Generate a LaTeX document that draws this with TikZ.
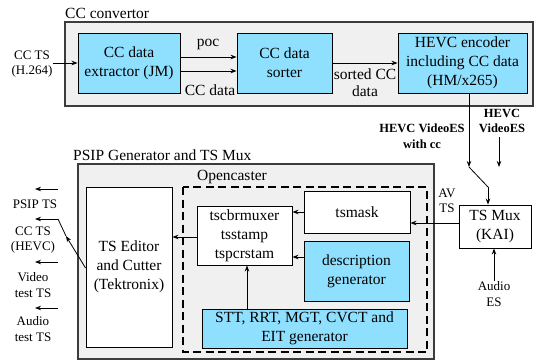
\documentclass[tikz,border=0pt]{standalone}
\usepackage{fontspec}
\setmainfont{Liberation Serif}
\usetikzlibrary{arrows.meta,calc}
\definecolor{boxblue}{RGB}{143,223,255}
\definecolor{panelgray}{RGB}{240,240,240}
\definecolor{paneledge}{RGB}{60,60,60}
\tikzset{
  panel/.style={draw=paneledge,line width=1.3pt,fill=panelgray},
  block/.style={draw=black,line width=0.9pt,fill=white,align=center,inner sep=1pt,
    font=\fontsize{15.5}{19}\selectfont},
  blueblock/.style={block,fill=boxblue},
  lbl/.style={align=center,inner sep=0pt,font=\fontsize{13}{15.5}\selectfont},
  boldlbl/.style={align=center,inner sep=0pt,font=\fontsize{12.5}{15.5}\selectfont\bfseries},
  title/.style={inner sep=0pt,font=\fontsize{15.5}{19}\selectfont},
  arr/.style={line width=0.8pt,-{Stealth[length=6pt,width=4.5pt]}},
  ln/.style={line width=0.8pt},
}
\begin{document}
\begin{tikzpicture}[x=1pt,y=-1pt]
\useasboundingbox (0,0) rectangle (535,360);

% ---- CC convertor panel ----
\draw[panel] (65,22) rectangle (533,106);
\node[title,anchor=base west] (cctitle) at (65,18) {CC convertor};

\node[blueblock,minimum width=102pt,minimum height=60pt] (ext) at (129,63) {CC data\\extractor (JM)};
\node[blueblock,minimum width=95pt,minimum height=60pt] (sort) at (284.5,63) {CC data\\sorter};
\node[blueblock,minimum width=129pt,minimum height=60pt] (hevc) at (462.5,63) {HEVC encoder\\including CC data\\(HM/x265)};

\node[lbl] (ccin) at (32,64) {CC TS\\(H.264)};
\coordinate (ccinend) at (53,63);
\draw[arr] (ccinend) -- (ext.west);

\draw[arr] ([yshift=6pt]ext.east) -- ([yshift=6pt]ext.east -| sort.west);
\draw[arr] ([yshift=-8pt]ext.east) -- ([yshift=-8pt]ext.east -| sort.west);
\node[title] (poc) at (208,44) {poc};
\node[title] (ccdata) at (210,90) {CC data};

\draw[arr] (sort.east) -- (hevc.west);
\node[title,align=center,font=\fontsize{15.5}{17}\selectfont] (sorted) at (365,83) {sorted CC\\data};

% ---- switch between the two video inputs of the mux ----
\node[blueblock,draw=black,fill=white,minimum width=72pt,minimum height=43pt] (mux) at (495,226.5) {TS Mux\\(KAI)};
\coordinate (swa) at (469,167);
\coordinate (swb) at (488,187);
\coordinate (vesa) at (499,137);
\coordinate (vesb) at (499,167);
\draw[arr] ([xshift=6.5pt]hevc.south) -- (swa);
\draw[ln] (swa) -- (swb);
\draw[arr] (swb) -- (swb |- mux.north);
\draw[arr] (vesa) -- (vesb);
\node[boldlbl] (veswcc) at (422,136) {HEVC VideoES\\with cc};
\node[boldlbl] (ves) at (502,121) {HEVC\\VideoES};

\node[lbl] (audio) at (494,294) {Audio\\ES};
\draw[arr] (audio.north) -- (audio.north |- mux.south);

% ---- PSIP generator and TS mux panel ----
\draw[panel] (78,164) rectangle (434,359);
\node[title,anchor=base west] (psiptitle) at (73,160) {PSIP Generator and TS Mux};
\draw[line width=2pt,dash pattern=on 8pt off 4.5pt] (183,187) rectangle (427,352);
\node[title] (oc) at (232,177) {Opencaster};

\node[block,minimum width=86pt,minimum height=160pt] (edit) at (129,267) {TS Editor\\and Cutter\\(Tektronix)};
\node[block,minimum width=95pt,minimum height=59pt] (cbr) at (244.5,235.5) {tscbrmuxer\\tsstamp\\tspcrstam};
\node[block,minimum width=106pt,minimum height=42pt] (mask) at (357,212) {tsmask};
\node[blueblock,minimum width=105pt,minimum height=60pt] (desc) at (356.5,271) {description\\generator};
\node[blueblock,minimum width=205pt,minimum height=39pt] (stt) at (304.5,328.5) {STT, RRT, MGT, CVCT and\\EIT generator};

\node[lbl] (avts) at (447,201) {AV\\TS};
\draw[arr] ([yshift=3.5pt]mux.west) -- ([yshift=3.5pt]mux.west -| mask.east);
\draw[arr] (mask.west) -- (mask.west -| cbr.east);
\draw[arr] ([yshift=14pt]desc.west) -- ([yshift=14pt]desc.west -| cbr.east);
\draw[arr] ([xshift=2.5pt]cbr.south |- stt.north) -- ([xshift=2.5pt]cbr.south);
\draw[arr] ([yshift=-1.5pt]cbr.west) -- ([yshift=-1.5pt]cbr.west -| edit.east);

% ---- outputs ----
\coordinate (swo) at (66,236);
\coordinate (swc) at (58,219);
\draw[arr] ([yshift=-1pt]edit.west) -- (swo);
\draw[ln] (swo) -- (swc);
\coordinate (o1a) at (58,189); \coordinate (o1b) at (35,189);
\coordinate (o2b) at (35,219);
\coordinate (o3a) at (58,262); \coordinate (o3b) at (35,262);
\coordinate (o4a) at (58,308); \coordinate (o4b) at (35,308);
\draw[arr] (o1a) -- (o1b);
\draw[arr] (swc) -- (o2b);
\draw[arr] (o3a) -- (o3b);
\draw[arr] (o4a) -- (o4b);
\node[lbl] (psipts) at (35,204) {PSIP TS};
\node[lbl] (ccts) at (33,240) {CC TS\\(HEVC)};
\node[lbl] (vidts) at (33,285) {Video\\test TS};
\node[lbl] (audts) at (33,329) {Audio\\test TS};
\end{tikzpicture}
\end{document}
